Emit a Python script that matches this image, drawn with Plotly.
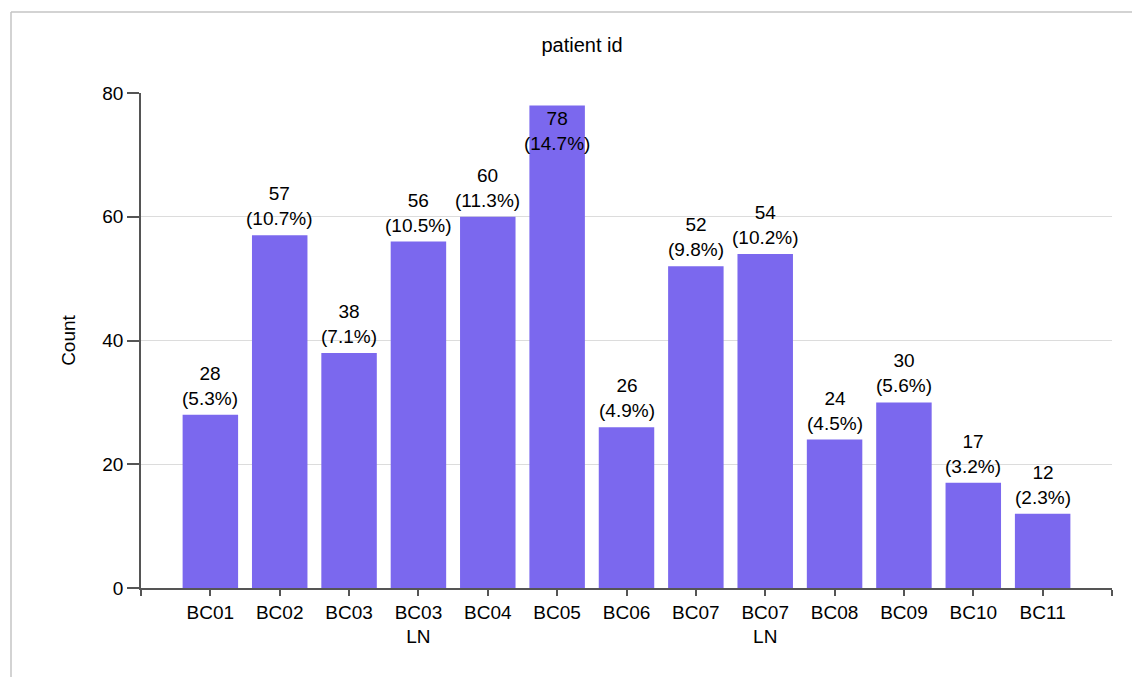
import plotly.graph_objects as go

# patient id counts
patients = ["BC01", "BC02", "BC03", "BC03<br>LN", "BC04", "BC05", "BC06",
            "BC07", "BC07<br>LN", "BC08", "BC09", "BC10", "BC11"]
counts = [28, 57, 38, 56, 60, 78, 26, 52, 54, 24, 30, 17, 12]

total = sum(counts)
labels = [f"{c}<br>({100 * c / total:.1f}%)" for c in counts]
inside = [c == max(counts) for c in counts]

FONT = "Arial, Liberation Sans, sans-serif"
W, H = 1140, 677
OFF = 8  # page body margin
ML, MT = 141 - OFF, 93 - OFF
pw, ph = 971, 495
MR = W - ML - pw
MB = H - MT - ph

xs = list(range(len(patients)))

fig = go.Figure()
fig.add_trace(go.Bar(
    x=xs, y=counts,
    width=0.8,
    marker=dict(color="#7B68EE", line=dict(width=0)),
    text=[t if i else "" for t, i in zip(labels, inside)],
    textposition="inside",
    textangle=0,
    insidetextanchor="end",
    constraintext="none",
    insidetextfont=dict(family=FONT, size=19, color="black"),
    cliponaxis=False,
    hoverinfo="x+y",
))

# labels above the bars
for x, c, t, i in zip(xs, counts, labels, inside):
    if i:
        continue
    fig.add_annotation(x=x, y=c, xref="x", yref="y", text=t, showarrow=False,
                       yanchor="bottom", yshift=4,
                       font=dict(family=FONT, size=19, color="black"))

fig.update_layout(
    width=W, height=H,
    margin=dict(l=ML, r=MR, t=MT, b=MB, pad=0),
    paper_bgcolor="white",
    plot_bgcolor="white",
    font=dict(family=FONT, size=19, color="black"),
    showlegend=False,
    title=dict(text="patient id", x=(582 - OFF) / W, xref="container", xanchor="center",
               y=1 - (45 - OFF) / H, yref="container", yanchor="middle",
               font=dict(family=FONT, size=20, color="black")),
)

fig.update_xaxes(
    range=[-1, len(patients)],
    tickmode="array",
    tickvals=[-1] + xs + [len(patients)],
    ticktext=[""] + patients + [""],
    showgrid=False, zeroline=False,
    showline=True, linecolor="#555", linewidth=1.5,
    ticks="outside", ticklen=6, tickcolor="#555", tickwidth=1.5,
    tickfont=dict(family=FONT, size=19, color="black"),
)
fig.update_yaxes(
    range=[0, 80],
    tickvals=[0, 20, 40, 60, 80],
    showgrid=True, gridcolor="#dcdcdc", gridwidth=1,
    zeroline=False,
    showline=True, linecolor="#555", linewidth=1.5,
    ticks="outside", ticklen=12, tickcolor="#555", tickwidth=1.5,
    tickfont=dict(family=FONT, size=19, color="black"),
    title=dict(text="Count", standoff=22, font=dict(family=FONT, size=19, color="black")),
)

# outer frame (top and left edges visible)
bx0 = (11 - OFF - ML) / pw
bx1 = (W + 20 - ML) / pw
by_top = (H - MB - (12 - OFF)) / ph
by_bot = (H - MB - H - 20) / ph
fig.add_shape(type="line", xref="paper", yref="paper",
              x0=bx0, x1=bx1, y0=by_top, y1=by_top,
              line=dict(color="#c4c4c4", width=1.5), layer="above")
fig.add_shape(type="line", xref="paper", yref="paper",
              x0=bx0, x1=bx0, y0=by_top, y1=by_bot,
              line=dict(color="#c4c4c4", width=1.5), layer="above")

fig.write_html("out.html")
